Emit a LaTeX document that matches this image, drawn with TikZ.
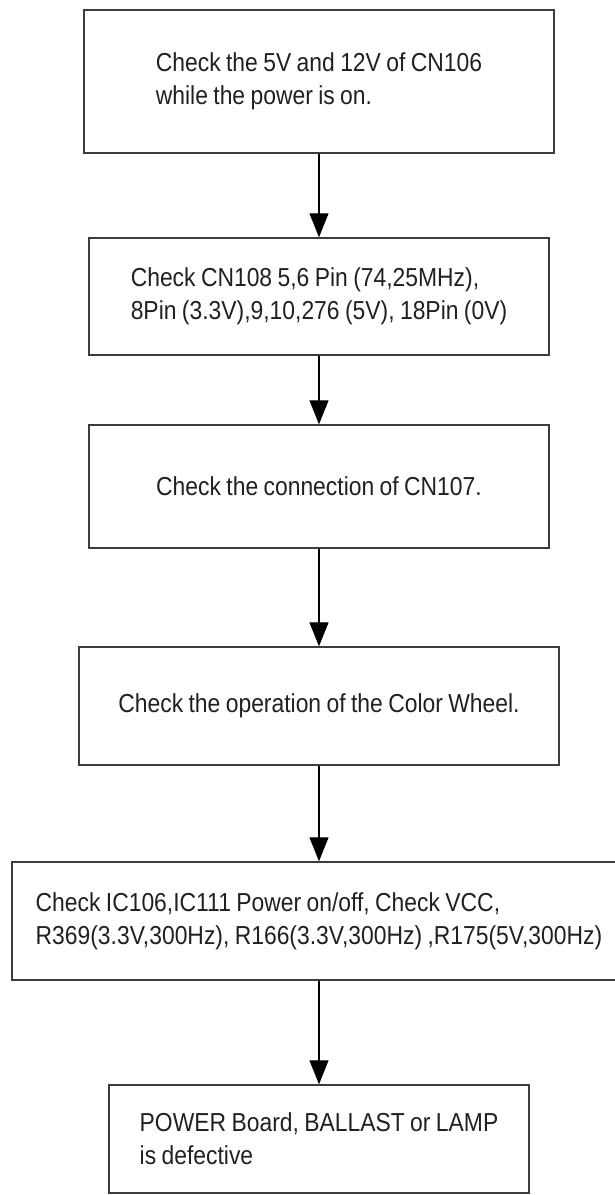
\documentclass[tikz,border=0pt]{standalone}
\usepackage{fontspec}
\setmainfont[FakeStretch=0.88,WordSpace=0.85]{Liberation Sans}
\usepackage{tikz}
\usetikzlibrary{arrows.meta,positioning}
\definecolor{fcline}{RGB}{60,60,60}
\definecolor{fctext}{RGB}{35,31,32}

\begin{document}
\begin{tikzpicture}[x=1pt,y=-1pt,
    stepbox/.style={draw=fcline, line width=1.4pt, align=left,
        inner sep=0pt, text=fctext, font=\fontsize{26}{33}\selectfont},
    flowarrow/.style={black, line width=1.1pt, -{Triangle[length=24pt,width=19pt]}}]

\useasboundingbox (0,0) rectangle (614,1195);

% =========================
% Boxes, top to bottom, all centred on x = 319
% =========================
\node[stepbox, minimum width=470pt, minimum height=143pt] (cn106) at (319,81.5)
    {Check the 5V and 12V of CN106\\while the power is on.};
\node[stepbox, minimum width=460pt, minimum height=117pt] (cn108) at (319,296.5)
    {Check CN108 5,6 Pin (74,25MHz),\\8Pin (3.3V),9,10,276 (5V), 18Pin (0V)};
\node[stepbox, minimum width=460pt, minimum height=123pt] (cn107) at (319,486.5)
    {Check the connection of CN107.};
\node[stepbox, minimum width=480pt, minimum height=118pt] (wheel) at (319,706)
    {Check the operation of the Color Wheel.};
\node[stepbox, minimum width=614pt, minimum height=118pt] (icpow) at (319,921)
    {Check IC106,IC111 Power on/off, Check VCC,\\R369(3.3V,300Hz), R166(3.3V,300Hz) ,R175(5V,300Hz)};
\node[stepbox, minimum width=420pt, minimum height=108pt] (faulty) at (319,1139)
    {POWER Board, BALLAST or LAMP\\is defective};

% =========================
% Arrows
% =========================
\draw[flowarrow] (cn106) -- (cn108);
\draw[flowarrow] (cn108) -- (cn107);
\draw[flowarrow] (cn107) -- (wheel);
\draw[flowarrow] (wheel) -- (icpow);
\draw[flowarrow] (icpow) -- (faulty);

\end{tikzpicture}
\end{document}
